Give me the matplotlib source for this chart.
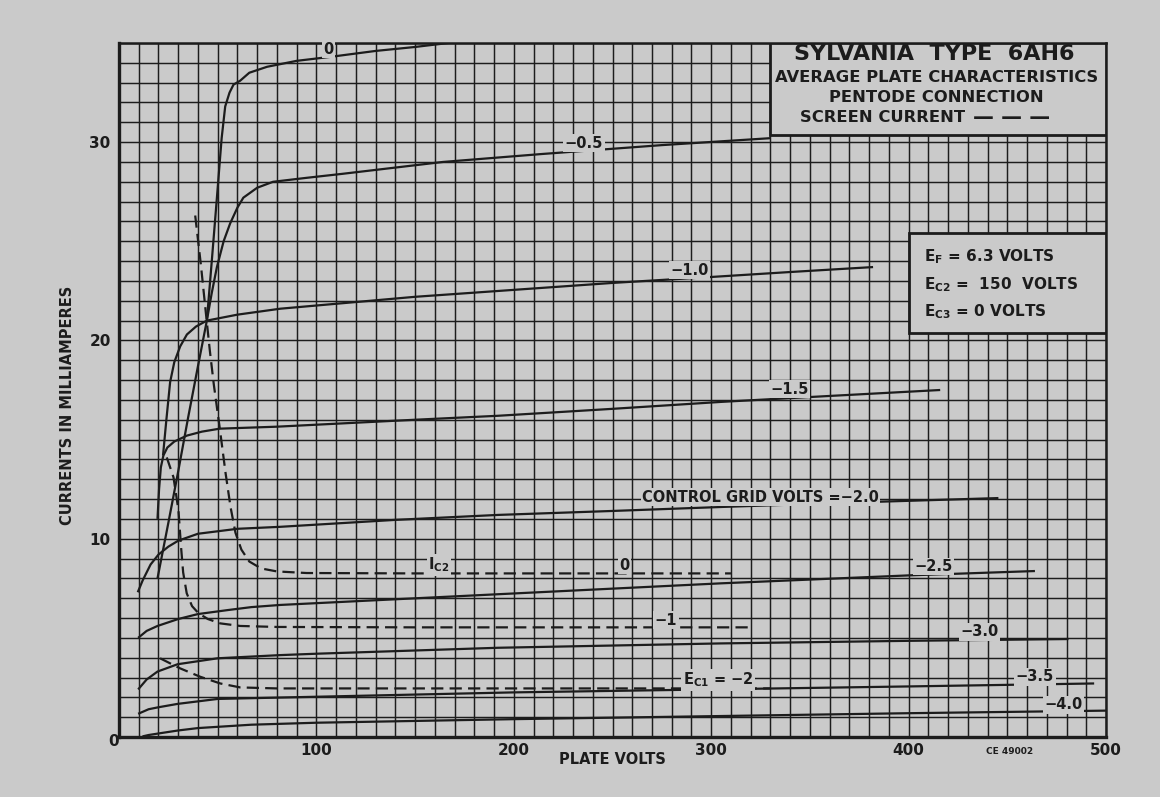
import matplotlib
matplotlib.use('Agg')
import matplotlib.pyplot as plt
from matplotlib.patches import Rectangle

plt.rcParams['font.family'] = ['DejaVu Sans']
plt.rcParams['font.weight'] = 'bold'
plt.rcParams['mathtext.default'] = 'bf'

PAPER = '#cacaca'
INK = '#1c1c1c'

# ---------------- data: plate current (mA) vs plate volts ----------------
ec_0_v = [19.5, 25, 30, 35, 40, 44.5, 47, 49.6, 52, 53.8, 56, 58, 61.4, 66, 75, 90, 107, 130, 150, 171]
ec_0_i = [8.0, 10.8, 13.4, 16.1, 18.7, 21.0, 24.0, 27.2, 30.2, 31.8, 32.5, 32.9, 33.1, 33.5, 33.8, 34.1, 34.3, 34.6, 34.8, 35.05]

ec_m05_v = [44.5, 47, 49.6, 53, 56.3, 60, 63, 70, 78, 95, 113, 164, 214, 275, 330]
ec_m05_i = [21.0, 22.4, 23.7, 25.0, 25.9, 26.7, 27.2, 27.7, 28.0, 28.2, 28.4, 29.0, 29.4, 29.85, 30.2]

ec_m10_v = [22.3, 24, 25.9, 28, 31, 34.4, 39, 44.5, 60, 81.7, 150, 200, 250, 300, 340, 382]
ec_m10_i = [14.2, 16.0, 17.9, 18.9, 19.7, 20.3, 20.7, 21.0, 21.3, 21.6, 22.2, 22.55, 22.9, 23.2, 23.45, 23.7]

ec_m15_v = [19.5, 20.3, 21.2, 22.5, 24.5, 28, 34.4, 42, 51, 80, 150, 192, 250, 305, 360, 416]
ec_m15_i = [11.0, 12.5, 13.6, 14.2, 14.6, 14.9, 15.2, 15.4, 15.55, 15.65, 16.0, 16.2, 16.55, 16.9, 17.2, 17.5]

ec_m20_v = [9.5, 12, 16, 20, 25, 30, 40, 60, 81.7, 140, 192, 250, 305, 380, 445.5]
ec_m20_i = [7.3, 7.9, 8.7, 9.2, 9.6, 9.9, 10.25, 10.5, 10.6, 10.95, 11.2, 11.4, 11.6, 11.85, 12.05]

ec_m25_v = [9.7, 14, 19.5, 30, 40, 55, 67, 81.7, 100, 192, 305, 400, 464]
ec_m25_i = [5.0, 5.35, 5.6, 5.95, 6.2, 6.4, 6.55, 6.66, 6.75, 7.2, 7.75, 8.15, 8.37]

ec_m30_v = [9.7, 14, 19.5, 29.7, 50, 81.7, 100, 192, 305, 400, 481]
ec_m30_i = [2.4, 2.9, 3.3, 3.67, 3.97, 4.13, 4.2, 4.5, 4.72, 4.85, 4.94]

ec_m35_v = [9.7, 15, 20, 29.7, 50, 100, 200, 300, 400, 494]
ec_m35_i = [1.17, 1.4, 1.5, 1.67, 1.92, 2.03, 2.25, 2.4, 2.55, 2.7]

ec_m40_v = [11.9, 15, 19.5, 30, 40, 67, 100, 200, 300, 400, 500]
ec_m40_i = [0.03, 0.1, 0.17, 0.33, 0.45, 0.62, 0.72, 0.9, 1.05, 1.2, 1.33]

# ---------------- data: screen current (mA) vs plate volts ----------------
ic2_0_v = [38.6, 41.5, 44.2, 46, 48, 51, 54, 56.5, 59, 62, 66, 72, 80, 95, 150, 250, 310]
ic2_0_i = [26.3, 23.8, 21.2, 19.5, 17.8, 15.6, 13.3, 11.6, 10.3, 9.45, 8.85, 8.5, 8.35, 8.27, 8.25, 8.25, 8.25]

ic2_m1_v = [24.2, 27.6, 30.1, 31.5, 32.5, 34.3, 37, 40.3, 45, 51.3, 61.4, 80, 150, 321]
ic2_m1_i = [14.1, 13.1, 11.45, 9.5, 8.3, 7.25, 6.6, 6.24, 5.95, 5.73, 5.6, 5.55, 5.53, 5.53]

ic2_m2_v = [20.8, 31, 41.1, 51.3, 61.4, 80, 150, 330]
ic2_m2_i = [3.97, 3.46, 3.04, 2.7, 2.5, 2.45, 2.45, 2.45]

plate_curves = [
    (ec_0_v, ec_0_i), (ec_m05_v, ec_m05_i), (ec_m10_v, ec_m10_i),
    (ec_m15_v, ec_m15_i), (ec_m20_v, ec_m20_i), (ec_m25_v, ec_m25_i),
    (ec_m30_v, ec_m30_i), (ec_m35_v, ec_m35_i), (ec_m40_v, ec_m40_i),
]
screen_curves = [(ic2_0_v, ic2_0_i), (ic2_m1_v, ic2_m1_i), (ic2_m2_v, ic2_m2_i)]

# curve labels: text, x, y
curve_labels = [
    ('0', 106, 34.68), ('\u22120.5', 235.5, 29.95), ('\u22121.0', 289, 23.55),
    ('\u22121.5', 339.5, 17.55), ('CONTROL GRID VOLTS =\u22122.0', 325, 12.1),
    ('\u22122.5', 412.5, 8.6), ('\u22123.0', 436, 5.3), ('\u22123.5', 464, 3.04),
    ('\u22124.0', 478.5, 1.62),
    ('I$_{\\mathbf{C2}}$', 162, 8.67), ('0', 256, 8.67), ('\u22121', 277, 5.9),
    ('E$_{\\mathbf{C1}}$ = \u22122', 303.5, 2.87),
]

x_ticks = [100, 200, 300, 400, 500]
y_ticks = [10, 20, 30]

# ---------------- figure ----------------
fig = plt.figure(figsize=(11.6, 7.97), dpi=100, facecolor=PAPER)
L, R, B, T = 119, 1106, 737, 43
ax = fig.add_axes([L / 1160, (797 - B) / 797, (R - L) / 1160, (B - T) / 797])
ax.set_facecolor(PAPER)
ax.set_xlim(0, 500)
ax.set_ylim(0, 35)

ax.set_xticks(x_ticks)
ax.set_xticklabels([str(t) for t in x_ticks])
ax.set_xticks(range(0, 501, 10), minor=True)
ax.set_yticks(y_ticks)
ax.set_yticklabels([str(t) for t in y_ticks])
ax.set_yticks(range(0, 36), minor=True)
ax.tick_params(which='both', length=0)
ax.tick_params(axis='x', pad=4, labelsize=11, colors=INK)
ax.tick_params(axis='y', pad=6, labelsize=11, colors=INK)
ax.grid(which='both', color=INK, lw=1.05)
ax.set_axisbelow(True)
for s in ax.spines.values():
    s.set_color(INK)
    s.set_linewidth(1.8)
ax.spines['left'].set_linewidth(2.4)
ax.spines['bottom'].set_linewidth(2.4)

for v, i in plate_curves:
    ax.plot(v, i, color=INK, lw=1.6, solid_capstyle='butt', zorder=3)
for v, i in screen_curves:
    ax.plot(v, i, color=INK, lw=1.6, ls=(0, (5.5, 2.8)), zorder=3)

for txt, x, y in curve_labels:
    ax.text(x, y, txt, ha='center', va='center', fontsize=10.5, color=INK, zorder=4,
            bbox=dict(facecolor=PAPER, edgecolor='none', pad=1.0))

ax.text(-3, -0.25, '0', ha='center', va='center', fontsize=11, color=INK, clip_on=False)

# title box
ax.add_patch(Rectangle((330, 30.35), 170, 4.65, facecolor=PAPER, edgecolor=INK, lw=2, zorder=5))
ax.text(413, 34.45, 'SYLVANIA  TYPE  6AH6', ha='center', va='center', fontsize=16, color=INK, zorder=6)
ax.text(414, 33.24, 'AVERAGE PLATE CHARACTERISTICS', ha='center', va='center', fontsize=11.8, color=INK, zorder=6)
ax.text(414, 32.25, 'PENTODE CONNECTION', ha='center', va='center', fontsize=11.8, color=INK, zorder=6)
ax.text(345, 31.24, 'SCREEN CURRENT', ha='left', va='center', fontsize=11.8, color=INK, zorder=6)
ax.text(432.5, 31.24, '\u2014 \u2014 \u2014', ha='left', va='center', fontsize=15, color=INK, zorder=6)

# conditions box
ax.add_patch(Rectangle((400, 20.35), 100, 5.05, facecolor=PAPER, edgecolor=INK, lw=2, zorder=5))
ax.text(408, 24.2, 'E$_{\\mathbf{F}}$ = 6.3 VOLTS', ha='left', va='center', fontsize=11, color=INK, zorder=6)
ax.text(408, 22.8, 'E$_{\\mathbf{C2}}$ =  150  VOLTS', ha='left', va='center', fontsize=11, color=INK, zorder=6)
ax.text(408, 21.45, 'E$_{\\mathbf{C3}}$ = 0 VOLTS', ha='left', va='center', fontsize=11, color=INK, zorder=6)

fig.text(612 / 1160, 1 - 760 / 797, 'PLATE VOLTS', ha='center', va='center', fontsize=10.5, color=INK)
fig.text(68 / 1160, 1 - 405 / 797, 'CURRENTS IN MILLIAMPERES', ha='center', va='center',
         rotation=90, fontsize=10.5, color=INK)
fig.text(1010 / 1160, 1 - 752 / 797, 'CE 49002', ha='center', va='center', fontsize=6.5, color=INK)

fig.savefig('out.png', dpi=100, facecolor=PAPER)
